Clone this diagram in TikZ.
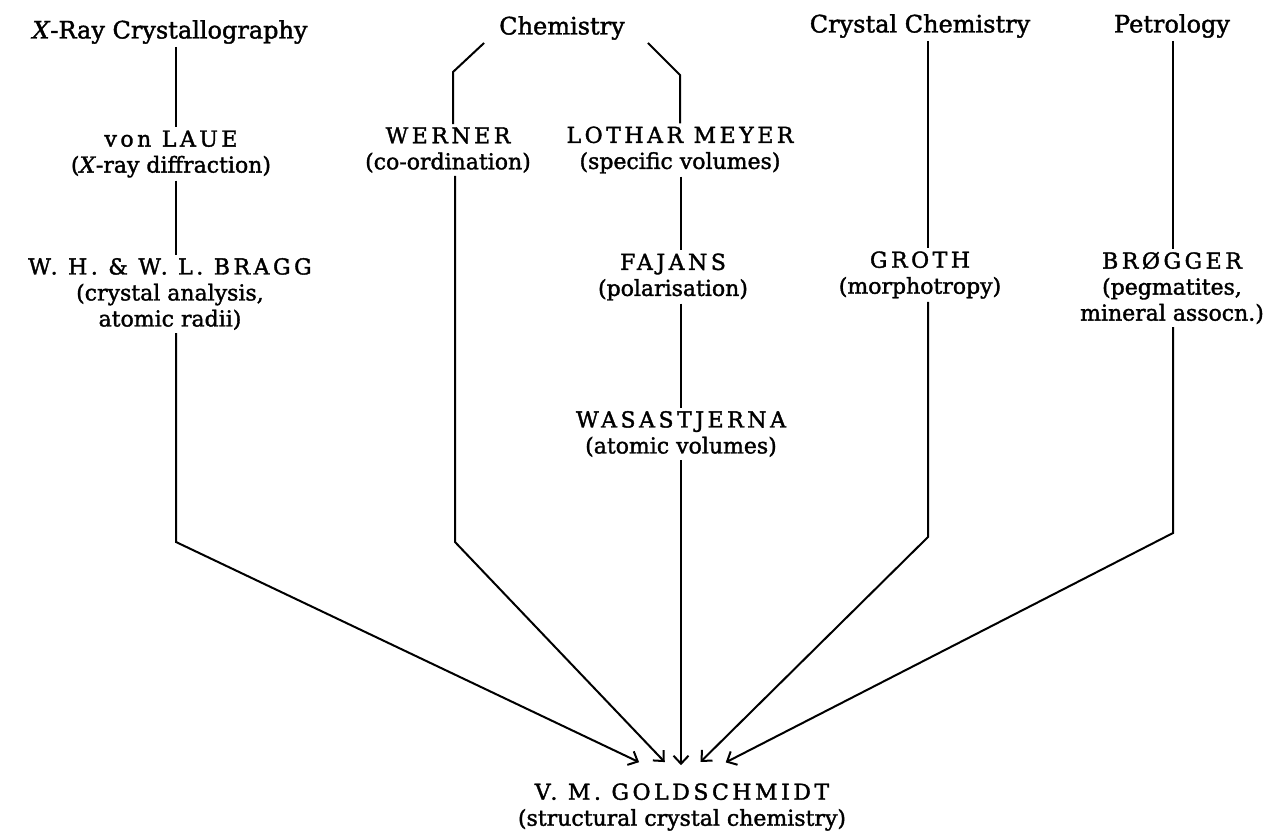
\documentclass[tikz,border=0pt]{standalone}
\usepackage{fontspec}
\setmainfont{DejaVu Serif}[FakeBold=1.6]
\newfontfamily\capsfont{DejaVu Serif}[LetterSpace=16, FakeBold=1.6]
\usetikzlibrary{arrows.meta}
\tikzset{
    field/.style={font=\fontsize{24}{28}\selectfont, inner sep=3pt},
    person/.style={font=\fontsize{22}{26}\selectfont, align=center, inner sep=3pt},
    link/.style={line width=2pt},
    feed/.style={link, -{Straight Barb[length=8pt,width=15pt]}}
}
\newcommand{\who}[2]{{\capsfont #1}\\#2}

\begin{document}
\begin{tikzpicture}[x=1pt, y=-1pt]
  \useasboundingbox (0,0) rectangle (1274,835);

  % fields along the top
  \node[field] (xray)  at (170,32)  {\textit{X}-Ray Crystallography};
  \node[field] (chem)  at (562,28)  {Chemistry};
  \node[field] (cryst) at (920,26)  {Crystal Chemistry};
  \node[field] (petro) at (1172,26) {Petrology};

  % workers
  \node[person] (laue)   at (171,154)  {\who{von LAUE}{(\textit{X}-ray diffraction)}};
  \node[person] (bragg)  at (170,294)  {\who{W. H. \& W. L. BRAGG}{(crystal analysis,\\atomic radii)}};
  \node[person] (werner) at (448,150)  {\who{WERNER}{(co-ordination)}};
  \node[person] (meyer)  at (680,150)  {\who{LOTHAR MEYER}{(specific volumes)}};
  \node[person] (fajans) at (673,277)  {\who{FAJANS}{(polarisation)}};
  \node[person] (wasast) at (681,434)  {\who{WASASTJERNA}{(atomic volumes)}};
  \node[person] (groth)  at (920,275)  {\who{GROTH}{(morphotropy)}};
  \node[person] (brog)   at (1172,288) {\who{BRØGGER}{(pegmatites,\\mineral assocn.)}};
  \node[person] (gold)   at (682,807)  {\who{V. M. GOLDSCHMIDT}{(structural crystal chemistry)}};

  % columns and bends
  \coordinate (colM)  at (681,0);
  \coordinate (chemL) at (453,72);
  \coordinate (chemR) at (680,75);
  \coordinate (bendX) at (176,542);
  \coordinate (bendW) at (455,542);
  \coordinate (bendG) at (928,537);
  \coordinate (bendB) at (1173,533);

  % x-ray branch
  \draw[link] (xray.south -| bendX) -- (laue.north -| bendX);
  \draw[link] (laue.south -| bendX) -- (bragg.north -| bendX);
  \draw[feed, shorten >=42pt] (bragg.south -| bendX) -- (bendX) -- ([xshift=-5pt]gold.north);

  % chemistry fork
  \draw[link] ([xshift=-12pt]chem.south west) -- (chemL) -- (werner.north -| chemL);
  \draw[link] ([xshift=20pt]chem.south east) -- (chemR) -- (meyer.north -| chemR);
  \draw[feed, shorten >=25pt] (werner.south -| bendW) -- (bendW) -- (gold.north);
  \draw[link] (meyer.south -| colM) -- (fajans.north -| colM);
  \draw[link] (fajans.south -| colM) -- (wasast.north -| colM);
  \draw[feed, shorten >=15pt] (wasast.south -| colM) -- (gold.north -| colM);

  % crystal chemistry and petrology
  \draw[link] (cryst.south -| bendG) -- (groth.north -| bendG);
  \draw[feed, shorten >=26pt] (groth.south -| bendG) -- (bendG) -- (gold.north);
  \draw[link] (petro.south -| bendB) -- (brog.north -| bendB);
  \draw[feed, shorten >=39pt] (brog.south -| bendB) -- (bendB) -- ([xshift=9pt]gold.north);
\end{tikzpicture}
\end{document}
